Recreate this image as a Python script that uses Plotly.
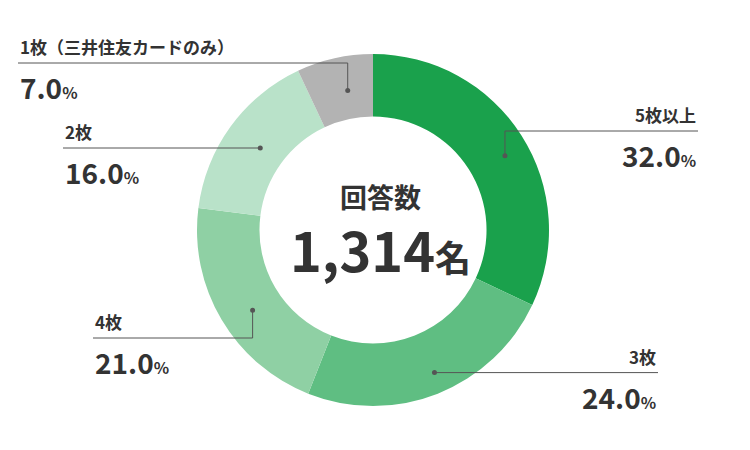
import math
import plotly.graph_objects as go

labels = ["5枚以上", "3枚", "4枚", "2枚", "1枚（三井住友カードのみ）"]
values = [32.0, 24.0, 21.0, 16.0, 7.0]
colors = ["#1aa14c", "#5fbe82", "#8fd0a4", "#b9e2c9", "#b3b3b3"]
total_label = "1,314"

W, H = 750, 450
cx, cy, R = 372, 227, 183
FONT = "Noto Sans CJK JP"
TXT = "#333333"

# plotly renders the pie slightly larger/offset than its domain; compensate
dcx, dcy, dR = 365, 222, 176
fig = go.Figure(go.Pie(
    labels=labels, values=values, hole=0.645, sort=False, direction="clockwise",
    rotation=0, marker=dict(colors=colors, line=dict(width=0)),
    textinfo="none", hoverinfo="label+percent", showlegend=False,
    domain=dict(x=[(dcx - dR) / W, (dcx + dR) / W], y=[(H - dcy - dR) / H, (H - dcy + dR) / H]),
))

def px(x, y):
    return x / W, 1 - y / H

routes = [
    dict(r=148, pts=lambda x, y: [(x, 123), (690, 123)], tx=690, ty=123, anchor="right"),
    dict(r=148, pts=lambda x, y: [(650, y)], tx=650, ty=None, anchor="right"),
    dict(r=148, pts=lambda x, y: [(x, 330), (85, 330)], tx=85, ty=330, anchor="left"),
    dict(r=148, pts=lambda x, y: [(55, y)], tx=55, ty=None, anchor="left"),
    dict(r=148, pts=lambda x, y: [(x, 55), (10, 55)], tx=10, ty=55, anchor="left"),
]

shapes, annots = [], []
cum = 0
for lab, val, rt in zip(labels, values, routes):
    mid = (cum + val / 2) / sum(values) * 2 * math.pi
    cum += val
    x = cx + rt["r"] * math.sin(mid)
    y = cy - rt["r"] * math.cos(mid)
    pts = [(x, y)] + rt["pts"](x, y)
    for (x0, y0), (x1, y1) in zip(pts[:-1], pts[1:]):
        a, b = px(x0, y0)
        c, d = px(x1, y1)
        shapes.append(dict(type="line", xref="paper", yref="paper", x0=a, y0=b, x1=c, y1=d,
                           line=dict(color="#555555", width=1)))
    a, b = px(x, y)
    shapes.append(dict(type="circle", xref="paper", yref="paper", x0=a - 2.5 / W, x1=a + 2.5 / W,
                       y0=b - 2.5 / H, y1=b + 2.5 / H, fillcolor="#555555", line=dict(width=0)))
    ty = rt["ty"] if rt["ty"] is not None else y
    lx, ly = px(rt["tx"], ty)
    annots.append(dict(x=lx, y=ly, xref="paper", yref="paper", text=f"<b>{lab}</b>",
                       showarrow=False, xanchor=rt["anchor"], yanchor="bottom", yshift=2,
                       font=dict(family=FONT, size=17, color=TXT)))
    annots.append(dict(x=lx, y=ly, xref="paper", yref="paper",
                       text=f"<b>{val:.1f}<span style='font-size:16px'>%</span></b>",
                       showarrow=False, xanchor=rt["anchor"], yanchor="top", yshift=-2,
                       font=dict(family=FONT, size=28, color=TXT)))

annots.append(dict(x=cx / W, y=1 - 188 / H, xref="paper", yref="paper", text="<b>回答数</b>",
                   showarrow=False, font=dict(family=FONT, size=27, color=TXT)))
annots.append(dict(x=cx / W, y=1 - 240 / H, xref="paper", yref="paper",
                   text=f"<b>{total_label}<span style='font-size:36px'>名</span></b>",
                   showarrow=False, font=dict(family=FONT, size=54, color=TXT)))

fig.update_layout(width=W, height=H, margin=dict(l=0, r=0, t=0, b=0),
                  paper_bgcolor="white", plot_bgcolor="white",
                  shapes=shapes, annotations=annots)
fig.write_html("out.html")
